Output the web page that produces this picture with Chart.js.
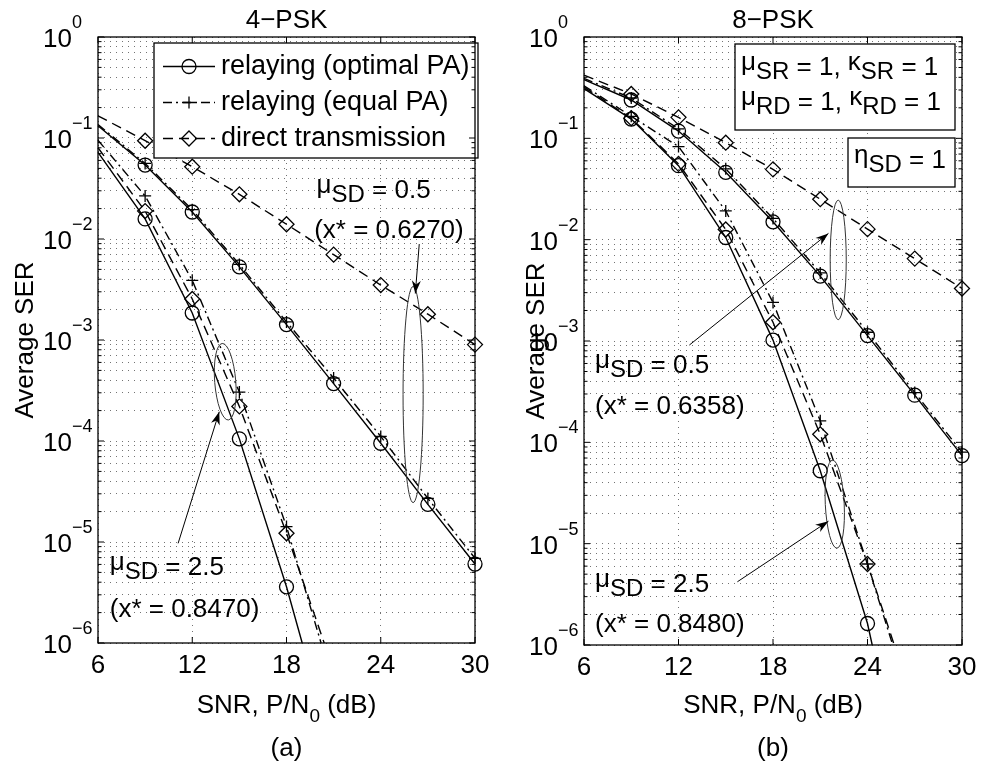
<!DOCTYPE html>
<html>
<head>
<meta charset="utf-8">
<title>Average SER vs SNR</title>
<script src="https://cdn.jsdelivr.net/npm/chart.js@4.4.1/dist/chart.umd.min.js"></script>
<style>
  html, body { margin: 0; padding: 0; background: #fff; }
  .wrap { position: relative; width: 981px; height: 769px; overflow: hidden; }
  canvas { position: absolute; top: 0; }
  #chart4 { left: 0; }
  #chart8 { left: 490px; }
</style>
</head>
<body>
<div class="wrap">
  <canvas id="chart4" width="490" height="769"></canvas>
  <canvas id="chart8" width="491" height="769"></canvas>
</div>
<script>
// axes
const snrTicks = [6, 12, 18, 24, 30];
const serExponents = [0, -1, -2, -3, -4, -5, -6];

// 4-PSK, mu_SD = 0.5
const snr4Upper = [6, 9, 12, 15, 18, 21, 24, 27, 30];
const ser4OptUpper = [0.132, 0.054, 0.0185, 0.0053, 1.42e-3, 3.7e-4, 9.5e-5, 2.36e-5, 6.05e-6];
const ser4EqUpper = [0.136, 0.056, 0.0195, 0.0056, 1.51e-3, 4.2e-4, 1.11e-4, 2.7e-5, 6.9e-6];
const ser4DirUpper = [0.166, 0.094, 0.052, 0.0277, 0.014, 0.0070, 0.0035, 0.0018, 9.0e-4];
// 4-PSK, mu_SD = 2.5
const snr4OptLower = [6, 9, 12, 15, 18, 19.0];
const ser4OptLower = [0.072, 0.0158, 1.85e-3, 1.05e-4, 3.6e-6, 1e-6];
const snr4EqLower = [6, 9, 12, 15, 18, 20.2];
const ser4EqLower = [0.095, 0.0267, 3.9e-3, 3.05e-4, 1.42e-5, 1e-6];
const snr4DirLower = [6, 9, 12, 15, 18, 20.4];
const ser4DirLower = [0.08, 0.0189, 2.55e-3, 2.2e-4, 1.22e-5, 1e-6];

// 8-PSK, mu_SD = 0.5
const snr8Upper = [6, 9, 12, 15, 18, 21, 24, 27, 30];
const ser8OptUpper = [0.38, 0.239, 0.118, 0.0462, 0.0150, 4.37e-3, 1.13e-3, 2.92e-4, 7.4e-5];
const ser8EqUpper = [0.39, 0.25, 0.124, 0.050, 0.0162, 4.7e-3, 1.22e-3, 3.1e-4, 8.0e-5];
const ser8DirUpper = [0.42, 0.274, 0.161, 0.0906, 0.0494, 0.0251, 0.0127, 6.5e-3, 3.3e-3];
// 8-PSK, mu_SD = 2.5
const snr8OptLower = [6, 9, 12, 15, 18, 21, 24, 24.3];
const ser8OptLower = [0.31, 0.155, 0.0537, 0.0105, 1.02e-3, 5.24e-5, 1.63e-6, 1e-6];
const snr8EqLower = [6, 9, 12, 15, 18, 21, 24, 25.6];
const ser8EqLower = [0.33, 0.165, 0.083, 0.0192, 2.4e-3, 1.63e-4, 6.3e-6, 1e-6];
const snr8DirLower = [6, 9, 12, 15, 18, 21, 24, 25.7];
const ser8DirLower = [0.32, 0.158, 0.056, 0.0126, 1.53e-3, 1.2e-4, 6.3e-6, 1e-6];

const legendLabels = ['relaying (optimal PA)', 'relaying (equal PA)', 'direct transmission'];

const FONT = "'Liberation Sans', Arial, Helvetica, sans-serif";
const font = size => size + 'px ' + FONT;

const STYLE = {
    opt: { dash: [], point: 'circle', r: 7 },
    eq: { dash: [9, 4, 2, 4], point: 'cross', r: 6 },
    dir: { dash: [10, 6], point: 'rectRot', r: 7.5 },
};

// grid values 1..9 x 10^n built from the exponent ticks
const serGrid = [];
serExponents.slice().reverse().forEach(e => {
    for (let k = 1; k <= 9; k++) {
        if (e === 0 && k > 1) break;
        serGrid.push(k * Math.pow(10, e));
    }
});

function series(snr, ser, style) {
    return {
        data: snr.map((x, i) => ({ x: x, y: ser[i] })),
        borderColor: '#000',
        borderWidth: 1.4,
        borderDash: style.dash,
        pointStyle: style.point,
        pointRadius: ctx => (ctx.raw && ctx.raw.x % 3 === 0 && ctx.raw.x > 6) ? style.r : 0,
        pointBorderColor: '#000',
        pointBackgroundColor: 'rgba(0,0,0,0)',
        pointBorderWidth: 1.3,
        fill: false,
        tension: 0,
        clip: false,
    };
}

// "μ_{SD} = 0.5" -> runs of normal / greek / subscript text
function richRuns(str) {
    const runs = [];
    const re = /_\{([^}]*)\}/g;
    let last = 0, m;
    const pushNorm = s => s.split(/([μκη])/).forEach(p => {
        if (p) runs.push({ t: p, kind: /^[μκη]$/.test(p) ? 'greek' : 'norm' });
    });
    while ((m = re.exec(str))) {
        pushNorm(str.slice(last, m.index));
        runs.push({ t: m[1], kind: 'sub' });
        last = re.lastIndex;
    }
    pushNorm(str.slice(last));
    return runs;
}

function drawRich(ctx, str, x, y, st) {
    st = Object.assign({ size: 26, sub: 24, drop: 4, raise: 5, align: 'left' }, st || {});
    const runs = richRuns(str);
    const fontOf = r => font(r.kind === 'sub' ? st.sub : st.size);
    let w = 0;
    runs.forEach(r => { ctx.font = fontOf(r); r.w = ctx.measureText(r.t).width; w += r.w; });
    let cx = st.align === 'center' ? x - w / 2 : x;
    ctx.textAlign = 'left';
    ctx.textBaseline = 'alphabetic';
    ctx.fillStyle = '#000';
    runs.forEach(r => {
        ctx.font = fontOf(r);
        const dy = r.kind === 'sub' ? st.drop : (r.kind === 'greek' ? -st.raise : 0);
        ctx.fillText(r.t, cx, y + dy);
        cx += r.w;
    });
}

function seg(ctx, x1, y1, x2, y2) {
    ctx.beginPath();
    ctx.moveTo(x1, y1);
    ctx.lineTo(x2, y2);
    ctx.stroke();
}

function marker(ctx, style, x, y) {
    const r = style.r;
    ctx.beginPath();
    if (style.point === 'circle') {
        ctx.arc(x, y, r, 0, Math.PI * 2);
    } else if (style.point === 'cross') {
        ctx.moveTo(x - r, y); ctx.lineTo(x + r, y);
        ctx.moveTo(x, y - r); ctx.lineTo(x, y + r);
    } else {
        ctx.moveTo(x, y - r); ctx.lineTo(x + r, y);
        ctx.lineTo(x, y + r); ctx.lineTo(x - r, y); ctx.closePath();
    }
    ctx.stroke();
}

function arrowTo(ctx, x1, y1, x2, y2) {
    ctx.lineWidth = 1;
    ctx.strokeStyle = '#000';
    seg(ctx, x1, y1, x2, y2);
    const a = Math.atan2(y2 - y1, x2 - x1);
    const len = 13, half = 4.5;
    const bx = x2 - len * Math.cos(a), by = y2 - len * Math.sin(a);
    const nx = x2 - 0.7 * len * Math.cos(a), ny = y2 - 0.7 * len * Math.sin(a);
    ctx.beginPath();
    ctx.moveTo(x2, y2);
    ctx.lineTo(bx + half * Math.sin(a), by - half * Math.cos(a));
    ctx.lineTo(nx, ny);
    ctx.lineTo(bx - half * Math.sin(a), by + half * Math.cos(a));
    ctx.closePath();
    ctx.fillStyle = '#000';
    ctx.fill();
}

const matlabDecor = {
    id: 'matlabDecor',
    afterDatasetsDraw(chart, args, o) {
        const ctx = chart.ctx;
        const ca = chart.chartArea;
        const sx = chart.scales.x, sy = chart.scales.y;
        const px = v => sx.getPixelForValue(v);
        const py = e => sy.getPixelForValue(Math.pow(10, e));
        ctx.save();

        // ellipses and arrows (data coordinates, y in log10)
        ctx.strokeStyle = '#333';
        ctx.lineWidth = 1;
        (o.ellipses || []).forEach(el => {
            const cx = px(el.x), cy = py(el.y);
            const rx = Math.abs(px(el.x + el.w) - cx);
            const ry = Math.abs(py(el.y + el.h) - cy);
            ctx.beginPath();
            ctx.ellipse(cx, cy, rx, ry, el.tilt || 0, 0, Math.PI * 2);
            ctx.stroke();
        });
        (o.arrows || []).forEach(ar => arrowTo(ctx, px(ar.x1), py(ar.y1), px(ar.x2), py(ar.y2)));

        // boxed notes
        (o.boxes || []).forEach(b => {
            const l = ca.left + b.l, t = ca.top + b.t, r = ca.right - b.r, bt = ca.top + b.b;
            ctx.fillStyle = '#fff';
            ctx.fillRect(l, t, r - l, bt - t);
            ctx.strokeStyle = '#000';
            ctx.lineWidth = 1.3;
            ctx.strokeRect(l, t, r - l, bt - t);
            b.lines.forEach((s, i) => drawRich(ctx, s, l + 6, t + b.base + i * b.step));
        });

        // legend
        if (o.legend) {
            const L = o.legend;
            const l = ca.left + L.l, t = ca.top + L.t, r = ca.right + L.r, bt = ca.top + L.b;
            ctx.fillStyle = '#fff';
            ctx.fillRect(l, t, r - l, bt - t);
            ctx.strokeStyle = '#000';
            ctx.lineWidth = 1.3;
            ctx.strokeRect(l, t, r - l, bt - t);
            [STYLE.opt, STYLE.eq, STYLE.dir].forEach((st, i) => {
                const y = t + 23.5 + i * 36;
                ctx.strokeStyle = '#000';
                ctx.lineWidth = 1.4;
                ctx.setLineDash(st.dash);
                seg(ctx, l + 9, y, l + 61, y);
                ctx.setLineDash([]);
                ctx.lineWidth = 1.3;
                marker(ctx, st, l + 35, y);
                ctx.font = font(27);
                ctx.fillStyle = '#000';
                ctx.textAlign = 'left';
                ctx.fillText(legendLabels[i], l + 67, y + 7.5);
            });
        }

        // free text
        (o.texts || []).forEach(tx => drawRich(ctx, tx.s, px(tx.x), py(tx.y)));

        // axes box with inward ticks
        ctx.strokeStyle = '#000';
        ctx.lineWidth = 1.3;
        ctx.setLineDash([]);
        ctx.strokeRect(ca.left, ca.top, ca.right - ca.left, ca.bottom - ca.top);
        ctx.lineWidth = 1;
        snrTicks.forEach(v => {
            const x = px(v);
            seg(ctx, x, ca.bottom, x, ca.bottom - 6);
            seg(ctx, x, ca.top, x, ca.top + 6);
        });
        serExponents.forEach(e => {
            const y = py(e);
            seg(ctx, ca.left, y, ca.left + 6, y);
            seg(ctx, ca.right, y, ca.right - 6, y);
            if (e < 0) {
                for (let k = 2; k <= 9; k++) {
                    const ym = sy.getPixelForValue(k * Math.pow(10, e));
                    seg(ctx, ca.left, ym, ca.left + 3.5, ym);
                    seg(ctx, ca.right, ym, ca.right - 3.5, ym);
                }
            }
        });

        // tick labels
        ctx.fillStyle = '#000';
        ctx.textBaseline = 'alphabetic';
        serExponents.forEach(e => {
            const y = py(e);
            ctx.font = font(26);
            ctx.textAlign = 'right';
            ctx.fillText('10', ca.left - 26, y + 10);
            ctx.font = font(18);
            ctx.textAlign = 'left';
            ctx.fillText(e === 0 ? '0' : '\u2212' + (-e), ca.left - 26, y - 9);
        });
        ctx.font = font(26);
        ctx.textAlign = 'center';
        snrTicks.forEach(v => ctx.fillText(String(v), px(v), ca.bottom + 30));

        // titles
        const mid = (ca.left + ca.right) / 2;
        drawRich(ctx, o.title, mid, 28, { align: 'center' });
        drawRich(ctx, 'SNR, P/N_{0} (dB)', mid, 713, { align: 'center', sub: 19, drop: 9 });
        drawRich(ctx, o.panel, mid, 756, { align: 'center' });
        ctx.save();
        ctx.translate(ca.left - o.ylabelGap, (ca.top + ca.bottom) / 2);
        ctx.rotate(-Math.PI / 2);
        drawRich(ctx, 'Average SER', 0, 0, { align: 'center' });
        ctx.restore();

        ctx.restore();
    }
};

function makeChart(id, datasets, padding, decor) {
    return new Chart(document.getElementById(id), {
        type: 'line',
        data: { datasets: datasets },
        options: {
            responsive: false,
            animation: false,
            events: [],
            layout: { padding: padding },
            plugins: {
                legend: { display: false },
                tooltip: { enabled: false },
                matlabDecor: decor,
            },
            scales: {
                x: {
                    type: 'linear',
                    min: 6,
                    max: 30,
                    ticks: { display: false, stepSize: 6 },
                    grid: { color: 'rgba(0,0,0,0.55)', lineWidth: 1, drawTicks: false },
                    border: { display: false, dash: [1, 5] },
                },
                y: {
                    type: 'logarithmic',
                    min: 1e-6,
                    max: 1,
                    afterBuildTicks: scale => { scale.ticks = serGrid.map(v => ({ value: v })); },
                    ticks: { display: false, autoSkip: false },
                    grid: { color: 'rgba(0,0,0,0.55)', lineWidth: 1, drawTicks: false },
                    border: { display: false, dash: [1, 5] },
                },
            },
        },
        plugins: [matlabDecor],
    });
}

makeChart('chart4', [
    series(snr4Upper, ser4OptUpper, STYLE.opt),
    series(snr4Upper, ser4EqUpper, STYLE.eq),
    series(snr4Upper, ser4DirUpper, STYLE.dir),
    series(snr4OptLower, ser4OptLower, STYLE.opt),
    series(snr4EqLower, ser4EqLower, STYLE.eq),
    series(snr4DirLower, ser4DirLower, STYLE.dir),
], { left: 98, right: 15, top: 37, bottom: 126 }, {
    title: '4\u2212PSK',
    panel: '(a)',
    ylabelGap: 65,
    legend: { l: 56, t: 6, r: 3, b: 121 },
    texts: [
        { s: 'μ_{SD} = 0.5', x: 19.91, y: -1.594 },
        { s: '(x* = 0.6270)', x: 19.76, y: -1.99 },
        { s: 'μ_{SD} = 2.5', x: 6.75, y: -5.33 },
        { s: '(x* = 0.8470)', x: 6.75, y: -5.74 },
    ],
    ellipses: [
        { x: 26.06, y: -3.54, w: 0.64, h: 1.07 },
        { x: 14.1, y: -3.413, w: 0.67, h: 0.38, tilt: -0.08 },
    ],
    arrows: [
        { x1: 26.45, y1: -2.05, x2: 26.2, y2: -2.54 },
        { x1: 11.1, y1: -5.013, x2: 13.72, y2: -3.71 },
    ],
});

makeChart('chart8', [
    series(snr8Upper, ser8OptUpper, STYLE.opt),
    series(snr8Upper, ser8EqUpper, STYLE.eq),
    series(snr8Upper, ser8DirUpper, STYLE.dir),
    series(snr8OptLower, ser8OptLower, STYLE.opt),
    series(snr8EqLower, ser8EqLower, STYLE.eq),
    series(snr8DirLower, ser8DirLower, STYLE.dir),
], { left: 94, right: 19, top: 37, bottom: 124 }, {
    title: '8\u2212PSK',
    panel: '(b)',
    ylabelGap: 40,
    boxes: [
        { l: 151, t: 7, r: 7, b: 93, base: 31, step: 35, lines: ['μ_{SR} = 1, κ_{SR} = 1', 'μ_{RD} = 1, κ_{RD} = 1'] },
        { l: 264, t: 101, r: 7, b: 150, base: 30, step: 0, lines: ['η_{SD} = 1'] },
    ],
    texts: [
        { s: 'μ_{SD} = 0.5', x: 6.7, y: -3.317 },
        { s: '(x* = 0.6358)', x: 6.7, y: -3.72 },
        { s: 'μ_{SD} = 2.5', x: 6.7, y: -5.476 },
        { s: '(x* = 0.8480)', x: 6.7, y: -5.87 },
    ],
    ellipses: [
        { x: 22.14, y: -2.2, w: 0.51, h: 0.59 },
        { x: 21.92, y: -4.61, w: 0.6, h: 0.435, tilt: -0.05 },
    ],
    arrows: [
        { x1: 12.69, y1: -3.04, x2: 21.52, y2: -1.938 },
        { x1: 15.74, y1: -5.376, x2: 21.52, y2: -4.778 },
    ],
});
</script>
</body>
</html>
